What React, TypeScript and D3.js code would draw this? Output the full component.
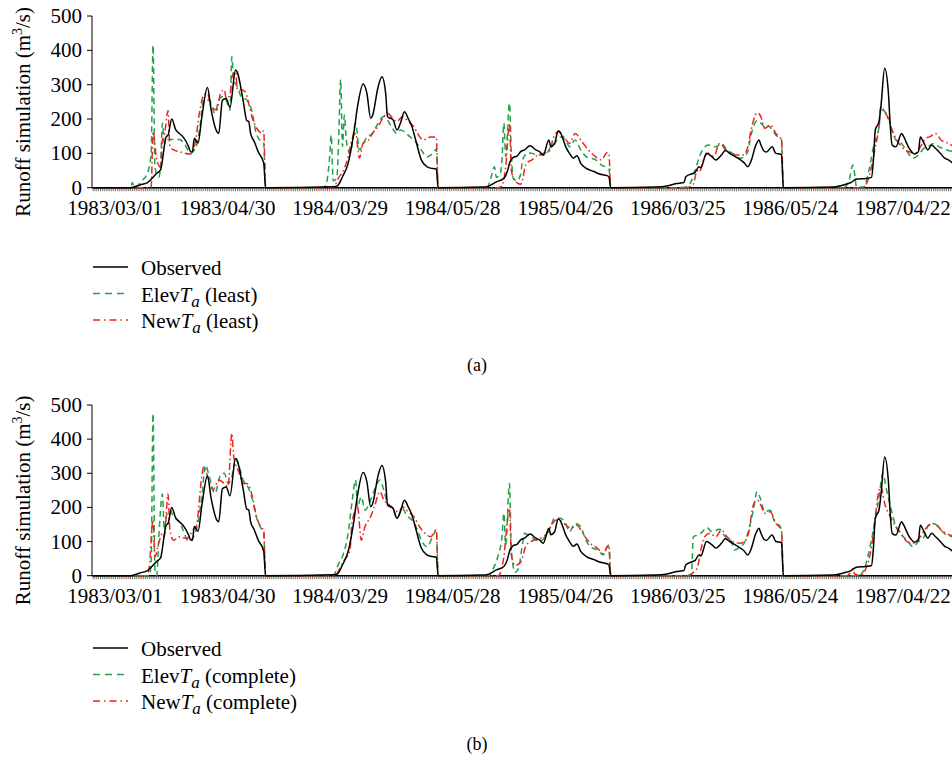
import React, { useRef, useEffect } from "react";
import * as d3 from "d3";

// day index along the concatenated Mar-May seasons (92 days each, 1983-1987)
const tickLabels = ["1983/03/01", "1983/04/30", "1984/03/29", "1984/05/28", "1985/04/26", "1986/03/25", "1986/05/24", "1987/04/22"];
const yTicks = [0, 100, 200, 300, 400, 500];
const totalDays = 460;

// [day, runoff m3/s]
const observed: [number, number][] = [
  [0, 0], [20, 0], [25, 8], [29, 15], [34, 42], [36, 52], [39, 148], [40, 153], [42, 200], [44, 170], [46, 158], [48, 148], [51, 119], [52, 105], [53, 104], [54, 144], [56, 130], [58, 205], [61, 292], [63, 226], [66, 163], [67, 158], [69, 255], [71, 260], [73, 234], [76, 343], [77, 335], [80, 255], [82, 195], [83, 193], [84, 158], [86, 134], [88, 105], [91, 72],
  [92, 0], [128, 3], [130, 4], [133, 32], [136, 71], [139, 158], [141, 236], [144, 302], [146, 275], [148, 202], [149, 210], [152, 294], [154, 323], [156, 275], [157, 207], [160, 197], [162, 168], [164, 190], [166, 221], [168, 202], [170, 178], [172, 139], [175, 81], [178, 61], [180, 57], [183, 54],
  [184, 0], [208, 2], [210, 3], [215, 17], [219, 27], [221, 50], [222, 71], [224, 88], [226, 92], [228, 105], [230, 110], [233, 122], [236, 110], [238, 105], [240, 95], [243, 139], [244, 120], [246, 128], [248, 166], [249, 162], [250, 150], [252, 119], [254, 100], [256, 86], [258, 93], [260, 71], [263, 56], [267, 47], [270, 40], [274, 35], [275, 32],
  [276, 0], [300, 2], [306, 5], [311, 12], [315, 15], [316, 32], [319, 40], [321, 45], [323, 61], [324, 58], [327, 100], [330, 90], [332, 81], [335, 95], [337, 108], [340, 98], [343, 88], [347, 73], [349, 61], [351, 81], [353, 119], [355, 139], [356, 125], [358, 105], [359, 104], [362, 119], [364, 100], [366, 98], [367, 97],
  [368, 0], [395, 2], [400, 8], [404, 15], [407, 25], [412, 27], [415, 30], [416, 81], [417, 168], [419, 193], [420, 236], [422, 348], [424, 275], [425, 178], [426, 124], [428, 119], [431, 158], [432, 150], [435, 115], [438, 98], [440, 105], [441, 148], [443, 129], [445, 110], [447, 124], [449, 115], [452, 98], [454, 86], [456, 81], [459, 68],
];

const elevLeast: [number, number][] = [
  [0, 0], [20, 0], [21, 15], [22, 0], [26, 20], [29, 42], [31, 100], [32, 415], [33, 60], [35, 30], [36, 60], [37, 188], [38, 130], [39, 140], [42, 140], [46, 140], [49, 125], [52, 100], [54, 110], [55, 118], [57, 178], [59, 255], [62, 255], [65, 217], [67, 255], [69, 265], [71, 255], [73, 226], [74, 381], [75, 313], [77, 294], [79, 265], [82, 255], [85, 217], [87, 158], [90, 134], [91, 130],
  [92, 0], [120, 0], [124, 5], [125, 30], [126, 80], [127, 153], [128, 20], [130, 30], [131, 150], [132, 316], [133, 120], [134, 212], [135, 139], [137, 100], [140, 188], [142, 110], [146, 148], [149, 158], [152, 188], [155, 207], [157, 197], [159, 178], [162, 158], [164, 168], [166, 163], [169, 148], [172, 134], [175, 110], [178, 90], [180, 95], [182, 105], [183, 113],
  [184, 0], [210, 0], [212, 27], [214, 61], [215, 30], [217, 40], [218, 81], [219, 188], [220, 90], [222, 246], [223, 100], [224, 27], [226, 20], [228, 40], [229, 81], [232, 102], [234, 100], [237, 95], [241, 95], [244, 119], [246, 129], [249, 148], [252, 139], [254, 119], [257, 139], [260, 110], [263, 90], [268, 81], [271, 66], [275, 56],
  [276, 0], [312, 0], [317, 3], [319, 20], [321, 52], [324, 100], [328, 124], [332, 119], [335, 129], [338, 110], [341, 100], [345, 86], [347, 90], [349, 105], [351, 158], [354, 195], [356, 188], [359, 173], [360, 180], [364, 153], [367, 139],
  [368, 0], [400, 0], [403, 20], [405, 66], [406, 40], [407, 2], [411, 2], [412, 15], [414, 61], [416, 119], [419, 178], [420, 236], [422, 222], [424, 207], [426, 163], [428, 139], [431, 129], [434, 105], [437, 86], [440, 95], [443, 115], [445, 119], [448, 129], [451, 119], [455, 110], [459, 105],
];

const newLeast: [number, number][] = [
  [0, 0], [31, 0], [32, 163], [34, 80], [36, 60], [37, 140], [38, 150], [40, 224], [41, 120], [43, 110], [46, 105], [52, 98], [54, 118], [57, 226], [59, 270], [61, 275], [63, 236], [66, 226], [68, 275], [70, 285], [71, 260], [73, 270], [74, 323], [76, 338], [77, 285], [79, 285], [81, 280], [83, 246], [85, 202], [88, 168], [90, 158], [91, 165],
  [92, 0], [128, 0], [131, 30], [133, 45], [136, 90], [138, 140], [140, 158], [142, 86], [144, 130], [147, 139], [149, 158], [152, 178], [155, 207], [157, 217], [159, 207], [162, 193], [165, 207], [168, 193], [171, 178], [173, 158], [176, 139], [180, 148], [183, 148],
  [184, 0], [216, 0], [218, 5], [220, 61], [222, 188], [223, 50], [225, 20], [228, 10], [231, 71], [234, 81], [237, 95], [240, 100], [244, 110], [245, 139], [248, 163], [251, 148], [254, 129], [257, 158], [260, 139], [264, 110], [268, 90], [271, 81], [274, 102], [275, 100],
  [276, 0], [316, 0], [320, 10], [322, 50], [323, 45], [326, 90], [328, 100], [331, 92], [334, 129], [338, 105], [343, 95], [347, 95], [349, 119], [351, 173], [354, 218], [356, 207], [358, 173], [361, 183], [364, 158], [367, 139],
  [368, 0], [410, 0], [413, 20], [415, 61], [417, 119], [419, 178], [420, 236], [421, 226], [423, 212], [426, 168], [428, 144], [431, 119], [435, 105], [438, 100], [441, 119], [444, 144], [446, 148], [449, 158], [452, 139], [456, 129], [459, 119],
];

const elevComplete: [number, number][] = [
  [0, 0], [30, 0], [31, 40], [32, 475], [33, 20], [34, 0], [35, 104], [37, 239], [38, 134], [39, 173], [41, 192], [43, 173], [46, 158], [48, 134], [51, 100], [53, 109], [55, 134], [58, 231], [60, 324], [62, 290], [65, 241], [68, 295], [70, 300], [72, 270], [74, 290], [76, 344], [78, 319], [80, 280], [82, 266], [85, 222], [87, 173], [89, 144], [91, 124],
  [92, 0], [128, 0], [131, 36], [133, 56], [136, 124], [138, 212], [140, 280], [141, 202], [143, 231], [145, 192], [148, 222], [150, 251], [153, 280], [155, 251], [157, 212], [160, 197], [162, 168], [165, 197], [167, 178], [170, 163], [173, 134], [175, 104], [178, 85], [181, 114], [183, 134],
  [184, 0], [211, 0], [213, 17], [216, 60], [218, 114], [219, 183], [220, 90], [222, 270], [223, 75], [225, 10], [227, 26], [229, 95], [230, 124], [233, 114], [235, 108], [238, 100], [241, 114], [244, 144], [246, 168], [249, 168], [252, 153], [254, 129], [257, 153], [260, 144], [262, 114], [265, 85], [269, 75], [272, 61], [274, 85], [275, 85],
  [276, 0], [316, 0], [319, 5], [320, 114], [322, 119], [325, 129], [327, 142], [330, 129], [334, 136], [337, 114], [340, 104], [342, 75], [345, 85], [347, 95], [349, 124], [352, 192], [354, 246], [356, 222], [358, 187], [361, 192], [363, 163], [365, 153], [367, 134],
  [368, 0], [408, 0], [411, 17], [413, 56], [416, 134], [419, 231], [421, 300], [423, 251], [426, 183], [428, 144], [431, 119], [434, 104], [437, 85], [440, 100], [443, 114], [445, 144], [448, 153], [452, 134], [455, 119], [459, 114],
];

const newComplete: [number, number][] = [
  [0, 0], [29, 0], [30, 26], [32, 163], [33, 56], [35, 95], [37, 124], [38, 115], [40, 239], [41, 134], [43, 104], [46, 114], [50, 109], [54, 139], [55, 144], [58, 290], [59, 319], [62, 275], [64, 251], [67, 280], [70, 270], [72, 261], [74, 417], [75, 349], [78, 300], [80, 270], [82, 270], [85, 231], [87, 178], [90, 139], [91, 136],
  [92, 0], [129, 0], [132, 26], [134, 46], [137, 75], [138, 153], [141, 202], [143, 104], [145, 144], [148, 173], [150, 202], [153, 246], [155, 222], [157, 212], [160, 197], [163, 187], [165, 202], [168, 187], [171, 173], [174, 144], [177, 124], [180, 114], [183, 134],
  [184, 0], [216, 0], [219, 56], [220, 110], [222, 197], [223, 60], [225, 30], [228, 40], [231, 90], [235, 104], [238, 109], [242, 124], [245, 153], [247, 163], [250, 158], [253, 144], [255, 139], [258, 148], [261, 124], [265, 95], [269, 80], [272, 65], [275, 90],
  [276, 0], [318, 0], [320, 10], [322, 21], [324, 75], [326, 114], [329, 124], [332, 114], [335, 134], [338, 114], [341, 100], [345, 95], [347, 100], [349, 114], [352, 207], [354, 222], [356, 207], [358, 183], [361, 187], [364, 153], [367, 134],
  [368, 0], [402, 0], [404, 12], [405, 20], [406, 5], [409, 0], [412, 21], [415, 85], [417, 173], [419, 251], [420, 261], [422, 212], [425, 173], [428, 144], [430, 129], [434, 100], [437, 95], [441, 114], [444, 139], [447, 153], [450, 148], [452, 134], [455, 124], [459, 114],
];

const GREEN = "#22a04a";
const RED = "#e8261f";
const FONT = "'Liberation Serif', 'Times New Roman', serif";

const panels = [
  { key: "a", top: 16, bottom: 187.7, elev: elevLeast, nw: newLeast, suffix: "(least)", legendY: 267, caption: "(a)", captionY: 371 },
  { key: "b", top: 405, bottom: 575.7, elev: elevComplete, nw: newComplete, suffix: "(complete)", legendY: 648, caption: "(b)", captionY: 750 },
];

export default function App() {
  const ref = useRef<SVGSVGElement>(null);

  useEffect(() => {
    const svg = d3.select(ref.current);
    svg.selectAll("*").remove();

    const x = d3.scaleLinear().domain([0, totalDays - 1]).range([93, 93 + (totalDays - 1) * 1.876]);

    svg.append("defs").append("clipPath").attr("id", "plotClip")
      .append("rect").attr("x", 92).attr("y", 0).attr("width", 860).attr("height", 759);

    panels.forEach((p) => {
      const y = d3.scaleLinear().domain([0, 500]).range([p.bottom, p.top]);
      const g = svg.append("g");

      // y axis
      g.append("line").attr("x1", 92).attr("x2", 92).attr("y1", p.top).attr("y2", p.bottom).attr("stroke", "#000").attr("stroke-width", 1);
      yTicks.forEach((t) => {
        g.append("line").attr("x1", 87).attr("x2", 92).attr("y1", y(t)).attr("y2", y(t)).attr("stroke", "#000");
        g.append("text").attr("x", 82).attr("y", y(t) + 7).attr("text-anchor", "end")
          .attr("font-family", FONT).attr("font-size", 21).text(t);
      });

      // y title
      const title = g.append("text")
        .attr("transform", `translate(30,${(p.top + p.bottom) / 2 + 10}) rotate(-90)`)
        .attr("text-anchor", "middle").attr("font-family", FONT).attr("font-size", 21);
      title.append("tspan").text("Runoff simulation (m");
      title.append("tspan").attr("dy", -8).attr("font-size", 14).text("3");
      title.append("tspan").attr("dy", 8).text("/s)");

      // x axis with a tick on every day
      const days = d3.range(totalDays);
      g.selectAll(".dt").data(days).enter().append("line")
        .attr("x1", (d) => x(d)).attr("x2", (d) => x(d))
        .attr("y1", p.bottom).attr("y2", p.bottom + 3.5)
        .attr("stroke", "#555").attr("stroke-width", 0.8);
      g.append("line").attr("x1", 92).attr("x2", 952).attr("y1", p.bottom).attr("y2", p.bottom).attr("stroke", "#000").attr("stroke-width", 1.5);
      tickLabels.forEach((lab, i) => {
        g.append("text").attr("x", x(i * 60) + 22).attr("y", p.bottom + 27.5).attr("text-anchor", "middle")
          .attr("font-family", FONT).attr("font-size", 21).text(lab);
      });

      // series
      const line = d3.line<[number, number]>().x((d) => x(d[0])).y((d) => y(d[1])).curve(d3.curveMonotoneX);
      const lines = g.append("g").attr("clip-path", "url(#plotClip)");
      lines.append("path").attr("d", line(p.elev)).attr("fill", "none").attr("stroke", GREEN)
        .attr("stroke-width", 1.5).attr("stroke-dasharray", "6,4");
      lines.append("path").attr("d", line(p.nw)).attr("fill", "none").attr("stroke", RED)
        .attr("stroke-width", 1.5).attr("stroke-dasharray", "7,3,1.5,3");
      lines.append("path").attr("d", line(observed)).attr("fill", "none").attr("stroke", "#000")
        .attr("stroke-width", 1.5);

      // legend
      const items = [
        { stroke: "#000", dash: null, name: "Observed" },
        { stroke: GREEN, dash: "7,5", name: "Elev" },
        { stroke: RED, dash: "7,4,1.5,4", name: "New" },
      ];
      items.forEach((it, i) => {
        const ly = p.legendY + i * 26.5;
        g.append("line").attr("x1", 93).attr("x2", 128).attr("y1", ly).attr("y2", ly)
          .attr("stroke", it.stroke).attr("stroke-width", 1.4).attr("stroke-dasharray", it.dash);
        const t = g.append("text").attr("x", 141).attr("y", ly + 8).attr("font-family", FONT).attr("font-size", 21);
        t.append("tspan").text(it.name);
        if (i > 0) {
          t.append("tspan").attr("font-style", "italic").text("T");
          t.append("tspan").attr("font-style", "italic").attr("font-size", 17).attr("dy", 5).text("a");
          t.append("tspan").attr("dy", -5).text(" " + p.suffix);
        }
      });

      g.append("text").attr("x", 477).attr("y", p.captionY).attr("text-anchor", "middle")
        .attr("font-family", FONT).attr("font-size", 18).text(p.caption);
    });
  });

  return (
    <div style={{ position: "absolute", left: 0, top: 0 }}>
      <svg ref={ref} width={952} height={759} style={{ display: "block", background: "#fff" }} />
    </div>
  );
}
